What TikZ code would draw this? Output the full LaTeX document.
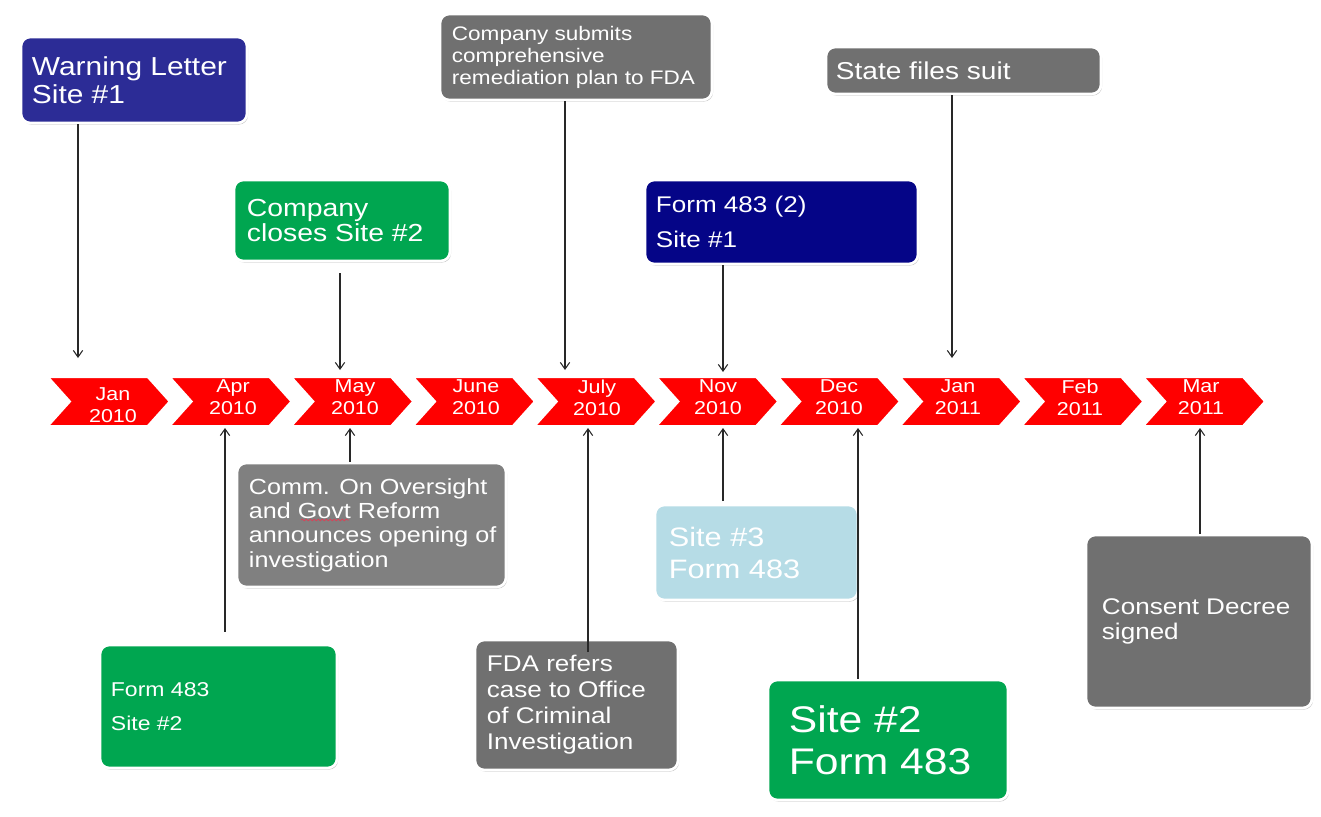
\documentclass[tikz,border=0pt]{standalone}
\usepackage{fontspec}
\setmainfont{Liberation Sans}[FakeStretch=1.15]
\usetikzlibrary{arrows.meta,shadows,decorations.pathmorphing}
\definecolor{navy}{RGB}{44,44,150}
\definecolor{dnavy}{RGB}{5,5,135}
\definecolor{grn}{RGB}{0,166,80}
\definecolor{gry}{RGB}{112,112,112}
\definecolor{lgry}{RGB}{128,128,128}
\definecolor{lblue}{RGB}{182,220,230}
\definecolor{chevred}{RGB}{255,0,0}
\definecolor{linec}{RGB}{40,40,40}
\definecolor{spell}{RGB}{210,70,90}
\tikzset{
  evbox/.style={rounded corners=7pt, draw=white, line width=2pt, fill=#1,
    drop shadow={shadow xshift=0.8pt, shadow yshift=-1.2pt, opacity=0.22, fill=black},
    inner sep=0pt},
  txt/.style={text=white, align=left, inner sep=0pt, anchor=west},
  chevtxt/.style={text=white, align=center, inner sep=0pt, font=\fontsize{14}{16.5}\selectfont},
  chevshape/.style={fill=chevred, draw=white, line width=1.5pt, line join=miter},
  arr/.style={draw=linec, line width=0.8pt, -{Straight Barb[length=5pt,width=7pt]}},
}
\begin{document}
\begin{tikzpicture}[x=0.75pt,y=-0.75pt]
\fill[white] (0,0) rectangle (1321,817);
\useasboundingbox (0,0) rectangle (1321,817);

% timeline chevrons
\foreach \i in {0,...,9}{
  \pgfmathsetmacro\xa{48+121.7*\i}
  \path[chevshape] (\xa,377) -- ++(99.7,0) -- ++(22,24.5) -- ++(-22,24.5) -- ++(-99.7,0) -- ++(22,-24.5) -- cycle;
}
\node[chevtxt] (c1) at (113,405.5) {Jan\\2010};
\node[chevtxt] (c2) at (233,397.5) {Apr\\2010};
\node[chevtxt] (c3) at (355,397.5) {May\\2010};
\node[chevtxt] (c4) at (476,397.5) {June\\2010};
\node[chevtxt] (c5) at (597,397.5) {July\\2010};
\node[chevtxt] (c6) at (718,397.5) {Nov\\2010};
\node[chevtxt] (c7) at (839,397.5) {Dec\\2010};
\node[chevtxt] (c8) at (958,397.5) {Jan\\2011};
\node[chevtxt] (c9) at (1080,397.5) {Feb\\2011};
\node[chevtxt] (c10) at (1201,397.5) {Mar\\2011};

% top boxes
\node[evbox=navy, minimum width=169.5pt, minimum height=64.5pt] (w1) at (134,80) {};
\node[txt, font=\fontsize{19.5}{21}\selectfont] (w1t) at ([xshift=9pt]w1.west) {Warning Letter\\Site \#1};

\node[evbox=grn, minimum width=162pt, minimum height=60.75pt] (cc) at (342,220.5) {};
\node[txt, font=\fontsize{18.5}{19}\selectfont] (cct) at ([xshift=10.5pt]cc.west) {Company\\closes Site \#2};

\node[evbox=gry, minimum width=204pt, minimum height=64.5pt] (rp) at (576,57) {};
\node[txt, font=\fontsize{14.7}{16.5}\selectfont] (rpt) at ([xshift=9.75pt]rp.west) {Company submits\\comprehensive\\remediation plan to FDA};

\node[evbox=gry, minimum width=206.25pt, minimum height=35.25pt] (sf) at (963.5,70.5) {};
\node[txt, font=\fontsize{18.3}{20}\selectfont] (sft) at ([xshift=8.25pt]sf.west) {State files suit};

\node[evbox=dnavy, minimum width=204.75pt, minimum height=63pt] (f2) at (781.5,222) {};
\node[txt, font=\fontsize{17}{26}\selectfont] (f2t) at ([xshift=9pt]f2.west) {Form 483 (2)\\Site \#1};

% bottom boxes
\node[evbox=lgry, minimum width=201.75pt, minimum height=93pt] (cm) at (371.5,525) {};
\node[txt, font=\fontsize{16.4}{18.2}\selectfont] (cmt) at ([xshift=9.75pt]cm.west) {Comm. On Oversight\\and Govt Reform\\announces opening of\\investigation};
\draw[spell, line width=0.6pt, decorate, decoration={snake, amplitude=0.6pt, segment length=3pt}] (301,520) -- (349,520);

\node[evbox=grn, minimum width=177.75pt, minimum height=92.25pt] (fs2) at (218.5,706.5) {};
\node[txt, font=\fontsize{15}{25}\selectfont] (fs2t) at ([xshift=9pt]fs2.west) {Form 483\\Site \#2};

\node[evbox=gry, minimum width=152.25pt, minimum height=97.5pt] (fda) at (576.5,705) {};
\node[txt, font=\fontsize{17}{19.5}\selectfont] (fdat) at ([xshift=9.75pt]fda.west) {FDA refers\\case to Office\\of Criminal\\Investigation};

\node[evbox=lblue, minimum width=152.25pt, minimum height=71.25pt] (s3) at (756.5,552.5) {};
\node[txt, font=\fontsize{20}{24}\selectfont] (s3t) at ([xshift=11.25pt]s3.west) {Site \#3\\Form 483};

\node[evbox=grn, minimum width=180pt, minimum height=90pt] (s2) at (888,740) {};
\node[txt, font=\fontsize{27.8}{31.5}\selectfont] (s2t) at ([xshift=16.5pt]s2.west) {Site \#2\\Form 483};

\node[evbox=gry, minimum width=169.5pt, minimum height=129.75pt] (cd) at (1199,621.5) {};
\node[txt, font=\fontsize{17}{19}\selectfont] (cdt) at ([xshift=12.75pt]cd.west) {Consent Decree\\signed};

% connector end points on the timeline
\coordinate (a1) at (78,358);
\coordinate (a2) at (340,370);
\coordinate (a3) at (565,370);
\coordinate (a4) at (952,358);
\coordinate (a5) at (723,372);
\coordinate (b1) at (225,428);
\coordinate (b2) at (350,428);
\coordinate (b3) at (588,428);
\coordinate (b4) at (723,428);
\coordinate (b5) at (858,428);
\coordinate (b6) at (1200,428);

% connectors
\draw[arr] (w1.south -| a1) -- (a1);
\draw[arr, shorten <=8pt] (cc.south -| a2) -- (a2);
\draw[arr] (rp.south -| a3) -- (a3);
\draw[arr] (sf.south -| a4) -- (a4);
\draw[arr] (f2.south -| a5) -- (a5);
\draw[arr, shorten <=9pt] (fs2.north -| b1) -- (b1);
\draw[arr] (cm.north -| b2) -- (b2);
\draw[arr, shorten <=-10pt] (fda.north -| b3) -- (b3);
\draw[arr, shorten <=2pt] (s3.north -| b4) -- (b4);
\draw[arr] (s2.north -| b5) -- (b5);
\draw[arr] (cd.north -| b6) -- (b6);
\end{tikzpicture}
\end{document}
